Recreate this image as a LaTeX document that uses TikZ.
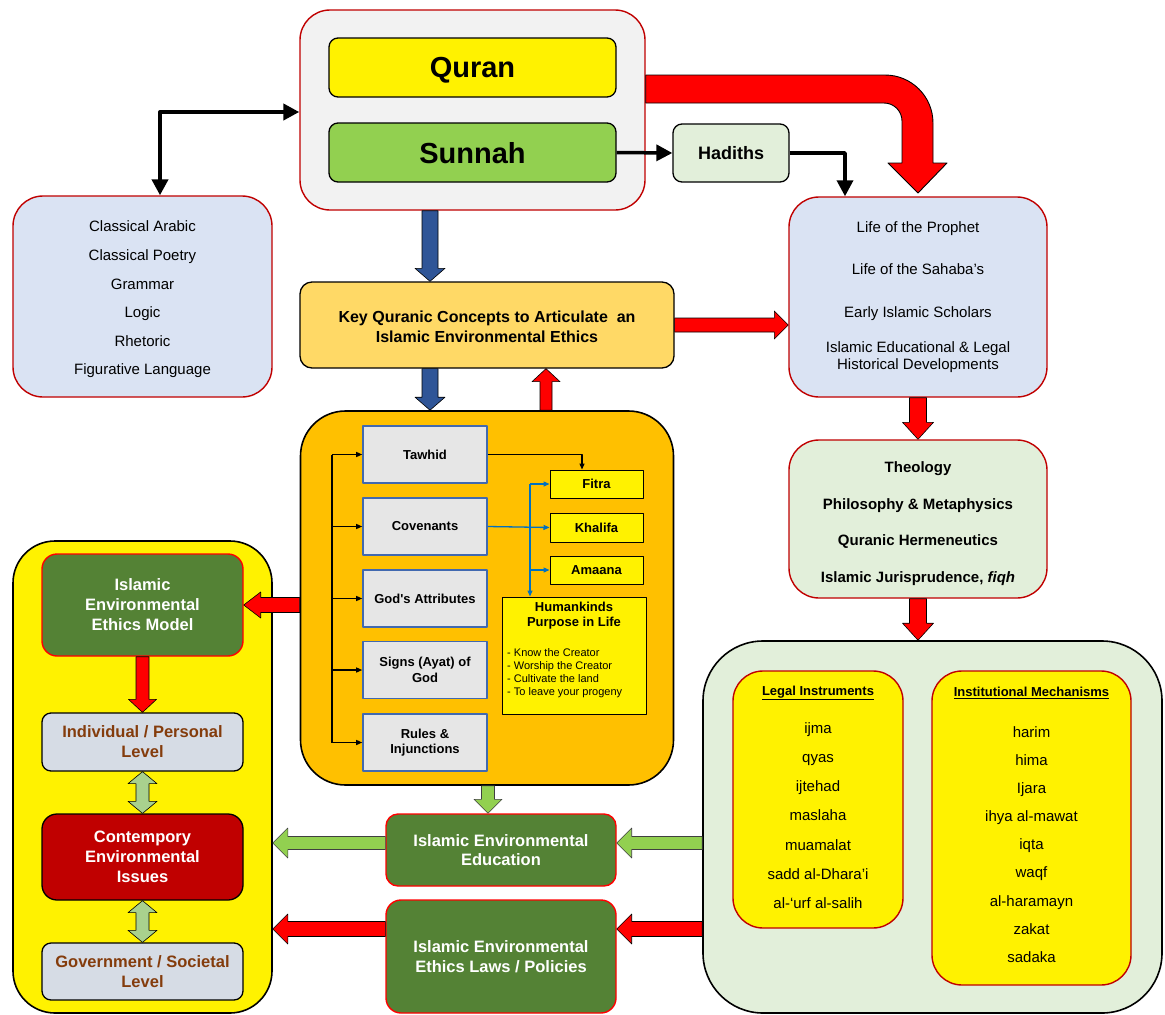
\documentclass[tikz,border=0pt]{standalone}
\usepackage{fontspec}
\setmainfont{Liberation Sans}
\usetikzlibrary{calc,arrows.meta}

\definecolor{topgray}{HTML}{F2F2F2}
\definecolor{dred}{HTML}{C00000}
\definecolor{sgreen}{HTML}{92D050}
\definecolor{lgreen}{HTML}{E2EFDA}
\definecolor{lblue}{HTML}{DAE3F3}
\definecolor{keyy}{HTML}{FFD966}
\definecolor{orangef}{HTML}{FFC000}
\definecolor{ginner}{HTML}{E6E6E6}
\definecolor{gborder}{HTML}{4169B0}
\definecolor{mgreen}{HTML}{548235}
\definecolor{lvl}{HTML}{D6DCE5}
\definecolor{brownt}{HTML}{843C0C}
\definecolor{barrow}{HTML}{2F5597}
\definecolor{dgarrow}{HTML}{A9D18E}
\definecolor{conblue}{HTML}{0070C0}

\newcommand\fs[2]{\fontsize{#1}{#2}\selectfont}
% straight apostrophe glyph, bypassing the TeX quote mapping
\newcommand\straightq{\XeTeXglyph\XeTeXcharglyph"27\relax}

% block arrow: style, from, to, half shaft, half head, head length
\newcommand\blockarrow[6]{%
  \draw[#1] let \p1=#2, \p2=#3, \p3=($(\p2)!#6!(\p1)$) in
    ($(\p1)!#4!90:(\p2)$) -- ($(\p3)!#4!-90:(\p1)$) -- ($(\p3)!#5!-90:(\p1)$)
    -- (\p2) -- ($(\p3)!#5!90:(\p1)$) -- ($(\p3)!#4!90:(\p1)$)
    -- ($(\p1)!#4!-90:(\p2)$) -- cycle;}
% two-headed block arrow: style, from, to, half shaft, half head, head length
\newcommand\dblarrow[6]{%
  \draw[#1] let \p1=#2, \p2=#3, \p3=($(\p1)!#6!(\p2)$), \p4=($(\p2)!#6!(\p1)$) in
    (\p1) -- ($(\p3)!#5!90:(\p2)$) -- ($(\p3)!#4!90:(\p2)$)
    -- ($(\p4)!#4!-90:(\p1)$) -- ($(\p4)!#5!-90:(\p1)$) -- (\p2)
    -- ($(\p4)!#5!90:(\p1)$) -- ($(\p4)!#4!90:(\p1)$)
    -- ($(\p3)!#4!-90:(\p2)$) -- ($(\p3)!#5!-90:(\p2)$) -- cycle;}

\begin{document}
\begin{tikzpicture}[x=1pt,y=-1pt,line join=round,
  wh/.style 2 args={minimum width=#1pt,minimum height=#2pt},
  every node/.style={inner sep=0pt,align=center},
  rbox/.style={draw=dred,line width=1.4pt,rounded corners=30pt},
  kbox/.style={draw=black,line width=1.3pt,rounded corners=9pt},
  gbox/.style={draw=gborder,line width=1.6pt,fill=ginner,font=\bfseries\fs{13}{15.5}},
  ybox/.style={draw=black,line width=1pt,fill=yellow,font=\bfseries\fs{13}{15.5}},
  greenbox/.style={draw=red,line width=1.4pt,fill=mgreen,text=white},
  rarr/.style={fill=red,draw=black,line width=0.6pt},
  barr/.style={fill=barrow,draw=black,line width=0.6pt},
  garr/.style={fill=sgreen,draw=black!75,line width=0.6pt},
  darr/.style={fill=dgarrow,draw=black,line width=0.6pt},
  thinarr/.style={line width=1.3pt,-{Triangle[length=6pt,width=5pt]}},
  bluearr/.style={draw=conblue,line width=1.3pt,-{Triangle[length=6pt,width=5pt]}},
  medarr/.style={line width=3.5pt,-{Triangle[length=16pt,width=16pt]}},
  bigboth/.style={line width=4pt,{Triangle[length=16pt,width=16pt]}-{Triangle[length=16pt,width=16pt]}},
]
\useasboundingbox (0,0) rectangle (1165,1015);
\fill[white] (0,0) rectangle (1165,1015);

% guide coordinates for connector positions
\coordinate (vx1) at (430,0);
\coordinate (vx2) at (546,0);
\coordinate (vx3) at (488,0);
\coordinate (vx4) at (160,0);
\coordinate (vx5) at (845,0);
\coordinate (vx6) at (582,0);
\coordinate (bus) at (332,0);
\coordinate (bus2) at (530,0);
\coordinate (hy1) at (0,112);
\coordinate (hy2) at (0,605);
\coordinate (hy3) at (0,843);
\coordinate (hy4) at (0,929);
\coordinate (cy1) at (0,75);
\coordinate (cy2) at (0,103);

% large containers
\node[wh={259}{472},draw=black,line width=1.6pt,fill=yellow,rounded corners=42pt] (lcol) at (142.5,777) {};
\node[wh={459}{372},draw=black,line width=1.6pt,fill=lgreen,rounded corners=60pt] (inst) at (932.5,827) {};
\node[wh={373}{374},draw=black,line width=1.6pt,fill=orangef,rounded corners=45pt] (core) at (487,598) {};

% sources
\node[wh={345}{200},rbox,fill=topgray] (top) at (472.5,110) {};
\node[wh={287}{59},kbox,fill=yellow,font=\bfseries\fs{29}{32},text depth=0pt] (quran) at (472.5,67.5) {Quran};
\node[wh={287}{59},kbox,fill=sgreen,font=\bfseries\fs{29}{32},text depth=0pt] (sunnah) at (472.5,152.5) {Sunnah};
\node[wh={116}{58},kbox,fill=lgreen,font=\bfseries\fs{18}{20}] (hadiths) at (731,153) {Hadiths};

\node[wh={259}{201},rbox,fill=lblue] (lang) at (142.5,296.5) {};
\node[font=\fs{15}{28.6}] (langtxt) at (142.5,299.5)
  {Classical Arabic\\Classical Poetry\\Grammar\\Logic\\Rhetoric\\Figurative Language};

\node[wh={374}{86},kbox,rounded corners=12pt,fill=keyy] (key) at (487,325) {};
\node[font=\bfseries\fs{16}{20}] (keytxt) at (487,327)
  {Key Quranic Concepts to Articulate\ \ an\\Islamic Environmental Ethics};

\node[wh={258}{200},rbox,fill=lblue,font=\fs{15}{17}] (hist) at (918,297)
  {Life of the Prophet\\[25pt]Life of the Sahaba’s\\[26pt]Early Islamic Scholars\\[18pt]Islamic Educational \& Legal\\Historical Developments};

\node[wh={258}{158},rbox,fill=lgreen] (theo) at (918,519) {};
\node[font=\bfseries\fs{15}{36.5}] (theotxt) at (918,523.5)
  {Theology\\Philosophy \& Metaphysics\\Quranic Hermeneutics\\Islamic Jurisprudence, \textit{fiqh}};

% legal and institutional lists
\node[wh={170}{257},rbox,fill=yellow] (legal) at (818,799.5) {};
\node[font=\bfseries\fs{13}{15}] (legalhd) at (818,693) {\underline{Legal Instruments}};
\node[font=\fs{15}{29.2}] (legallist) at (818,815.5)
  {ijma\\qyas\\ijtehad\\maslaha\\muamalat\\sadd al-Dhara’i\\al-‘urf al-salih};

\node[wh={199}{314},rbox,fill=yellow] (mech) at (1031.5,828) {};
\node[font=\bfseries\fs{13}{15}] (mechhd) at (1031.5,693) {\underline{Institutional Mechanisms}};
\node[font=\fs{15}{28.1}] (mechlist) at (1031.5,844.5)
  {harim\\hima\\Ijara\\ihya al-mawat\\iqta\\waqf\\al-haramayn\\zakat\\sadaka};

% key concept boxes
\node[wh={124}{57},gbox] (tawhid) at (425,454.5) {Tawhid};
\node[wh={124}{57},gbox] (covenants) at (425,526.5) {Covenants};
\node[wh={124}{57},gbox] (attrs) at (425,598.5) {God\straightq s Attributes};
\node[wh={124}{57},gbox] (signs) at (425,670) {Signs (Ayat) of\\God};
\node[wh={124}{57},gbox] (rules) at (425,742.5) {Rules \&\\Injunctions};

\node[wh={93}{28},ybox] (fitra) at (596.5,484) {Fitra};
\node[wh={93}{29},ybox] (khalifa) at (596.5,527.5) {Khalifa};
\node[wh={93}{28},ybox] (amaana) at (596.5,570) {Amaana};
\node[wh={144}{117},draw=black,line width=1pt,fill=yellow] (purpose) at (574,655.5) {};
\node[font=\bfseries\fs{13}{15.5}] (purposehd) at (574,615.5) {Humankinds\\Purpose in Life};
\node[anchor=west,align=left,font=\fs{11}{13}] (purposelist) at (507,673.5)
  {- Know the Creator\\- Worship the Creator\\- Cultivate the land\\- To leave your progeny};

% model and levels
\node[wh={201}{102},greenbox,rounded corners=15pt,font=\bfseries\fs{16.5}{20}] (iem) at (142.5,605)
  {Islamic\\Environmental\\Ethics Model};
\node[wh={201}{58},kbox,fill=lvl,text=brownt,font=\bfseries\fs{16.5}{20}] (indiv) at (142.5,742)
  {Individual / Personal\\Level};
\node[wh={201}{86},kbox,rounded corners=15pt,fill=dred,text=white,font=\bfseries\fs{16.5}{20}] (issues) at (142.5,857)
  {Contempory\\Environmental\\Issues};
\node[wh={201}{57},kbox,fill=lvl,text=brownt,font=\bfseries\fs{16.5}{20.5}] (gov) at (142.5,971.5)
  {Government / Societal\\Level};

% outcomes
\node[wh={230}{72},greenbox,rounded corners=12pt,font=\bfseries\fs{16.5}{19.5}] (edu) at (501,850)
  {Islamic Environmental\\Education};
\node[wh={230}{113},greenbox,rounded corners=15pt,font=\bfseries\fs{16.5}{20}] (laws) at (501,956.5)
  {Islamic Environmental\\Ethics Laws / Policies};

% line connectors
\draw[bigboth] (top.west |- hy1) -| (lang.north -| vx4);
\draw[medarr] (sunnah.east) -- (hadiths.west);
\draw[medarr] (hadiths.east) -| (hist.north -| vx5);

% curved arrow from the Quran to the historical sources
\draw[rarr,line width=0.9pt] (top.east |- cy1) -- (885,75)
  arc[start angle=-90,end angle=0,radius=48] -- (933,163) -- (947,163) -- (918,193)
  -- (888,163) -- (902,163) -- (902,121)
  arc[start angle=0,end angle=-90,radius=18] -- (top.east |- cy2) -- cycle;

% block arrows
\blockarrow{barr}{(top.south -| vx1)}{(key.north -| vx1)}{8pt}{15pt}{13pt}
\blockarrow{barr}{(key.south -| vx1)}{(core.north -| vx1)}{8pt}{15pt}{13pt}
\blockarrow{rarr}{(core.north -| vx2)}{(key.south -| vx2)}{6pt}{14pt}{13pt}
\blockarrow{rarr}{(key.east)}{(hist.west |- key.east)}{7pt}{14pt}{14pt}
\blockarrow{rarr}{(hist.south)}{(theo.north)}{8.5pt}{15.5pt}{17pt}
\blockarrow{rarr}{(theo.south)}{(inst.north -| theo.south)}{8.5pt}{15.5pt}{17pt}
\blockarrow{rarr}{(core.west |- hy2)}{(iem.east |- hy2)}{7.5pt}{13pt}{17pt}
\blockarrow{garr}{(core.south -| vx3)}{(edu.north -| vx3)}{6.5pt}{14pt}{14pt}
\blockarrow{garr}{(edu.west |- hy3)}{(lcol.east |- hy3)}{6.5pt}{15pt}{15pt}
\blockarrow{garr}{(inst.west |- hy3)}{(edu.east |- hy3)}{6.5pt}{15pt}{15pt}
\blockarrow{rarr}{(laws.west |- hy4)}{(lcol.east |- hy4)}{7.5pt}{15pt}{15pt}
\blockarrow{rarr}{(inst.west |- hy4)}{(laws.east |- hy4)}{7.5pt}{15pt}{15pt}
\blockarrow{rarr}{(iem.south)}{(indiv.north)}{6.5pt}{14pt}{13pt}
\dblarrow{darr}{(indiv.south)}{(issues.north)}{6.5pt}{14.5pt}{12pt}
\dblarrow{darr}{(issues.south)}{(gov.north)}{6.5pt}{14.5pt}{12pt}

% connectors inside the key concepts panel
\draw[line width=1.3pt] (bus |- tawhid.west) -- (bus |- rules.west);
\foreach \b in {tawhid,covenants,attrs,signs,rules}
  \draw[thinarr] (bus |- \b.west) -- (\b.west);
\draw[thinarr] (tawhid.east) -| (fitra.north -| vx6);
\draw[bluearr] (covenants.east) -- (khalifa.west);
\draw[bluearr] (bus2 |- fitra.west) -- (bus2 |- purpose.north);
\draw[bluearr] (bus2 |- fitra.west) -- (fitra.west);
\draw[bluearr] (bus2 |- amaana.west) -- (amaana.west);
\end{tikzpicture}
\end{document}
